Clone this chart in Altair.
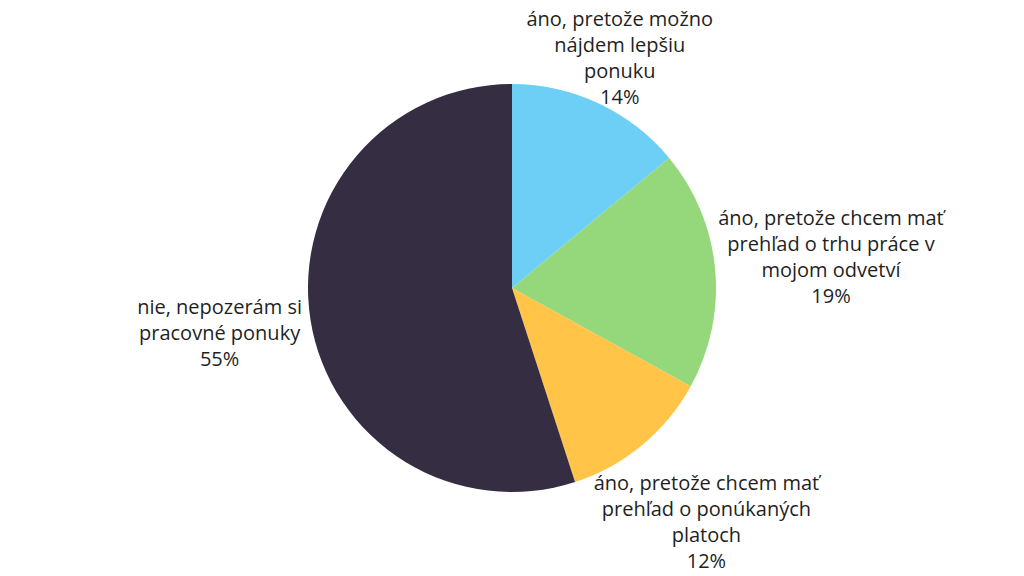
import math
import altair as alt
import pandas as pd

# ---- data ----
labels = [
    "áno, pretože možno\nnájdem lepšiu\nponuku",
    "áno, pretože chcem mať\nprehľad o trhu práce v\nmojom odvetví",
    "áno, pretože chcem mať\nprehľad o ponúkaných\nplatoch",
    "nie, nepozerám si\npracovné ponuky",
]
values = [14, 19, 12, 55]
colors = ["#6dcff6", "#94d87b", "#ffc448", "#352d41"]

# ---- layout settings ----
W, H = 1008, 560
R = 204
FONT = "Open Sans"
FS = 20
LH = 26
CHAR_W = 10
GAP = 2

total = sum(values)
rows = []
start = 0
for i, (lab, v) in enumerate(zip(labels, values)):
    text = f"{lab}\n{v}%"
    lines = text.split("\n")
    n = len(lines)
    mid = (start + v / 2) / total * 2 * math.pi
    start += v
    w = max(len(l) for l in lines) * CHAR_W
    h = n * LH
    r = R + GAP + w / 2 * abs(math.sin(mid)) + h / 2 * abs(math.cos(mid))
    c = math.cos(mid)
    if c > 0:  # keep the block inside the chart at the top
        r = min(r, (H / 2 - h / 2 + 1) / c)
    elif c < 0:  # and inside at the bottom
        r = min(r, (H / 2 - h / 2 + 7) / -c)
    # block centre -> anchor of the first line (Vega anchors multi-line text at line 1)
    bx, by = r * math.sin(mid), -r * math.cos(mid)
    ax, ay = bx, by - (n - 1) * LH / 2
    lr = math.hypot(ax, ay)
    lt = math.atan2(ax, -ay)
    rows.append(dict(order=i, cat=lab, value=v, text=text, lt=lt, lr=lr))

df = pd.DataFrame(rows)

base = alt.Chart(df)

pie = base.mark_arc(outerRadius=R).encode(
    theta=alt.Theta("value:Q", stack=True),
    order=alt.Order("order:Q"),
    color=alt.Color("cat:N", scale=alt.Scale(domain=labels, range=colors), legend=None),
)

text = base.mark_text(
    font=FONT, fontSize=FS, lineHeight=LH, lineBreak="\n",
    align="center", baseline="middle", color="#1f1f1f",
).encode(
    theta=alt.Theta("lt:Q", scale=None, stack=None),
    radius=alt.Radius("lr:Q", scale=None),
    text="text:N",
)

chart = (pie + text).properties(
    width=W, height=H, autosize="none", padding=0
).configure_view(stroke=None)

chart.save("out.html", embed_options={"renderer": "svg", "actions": False})
